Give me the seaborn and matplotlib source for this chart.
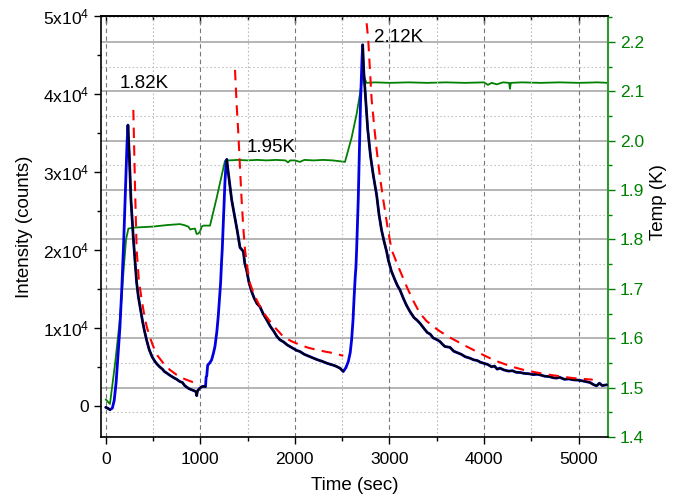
import numpy as np
import matplotlib
matplotlib.use('Agg')
import matplotlib.pyplot as plt
from matplotlib.ticker import MultipleLocator, FuncFormatter
import seaborn as sns

# intensity trace (sec, counts)
time_sec = [0, 20, 45, 70, 90, 110, 130, 150, 170, 190, 210, 225, 235, 250, 267, 292, 310, 327, 345, 363,
            390, 410, 433, 460, 490, 520, 539, 570, 600, 620, 645, 680, 720, 750, 785, 810, 835, 856, 880,
            910, 940, 955, 962, 970, 990, 1015, 1040, 1055, 1062, 1068, 1078, 1100, 1120, 1140, 1155, 1175,
            1190, 1205, 1215, 1225, 1232, 1245, 1260, 1272, 1280, 1290, 1310, 1332, 1360, 1390, 1420, 1455,
            1470, 1490, 1515, 1543, 1570, 1600, 1631, 1665, 1702, 1740, 1780, 1810, 1842, 1880, 1920, 1948,
            1990, 2020, 2054, 2100, 2140, 2170, 2195, 2240, 2290, 2336, 2380, 2410, 2442, 2480, 2512, 2540,
            2565, 2585, 2600, 2615, 2625, 2638, 2646, 2653, 2670, 2695, 2710, 2717, 2728, 2745, 2770, 2800,
            2830, 2865, 2890, 2917, 2945, 2970, 2988, 3020, 3058, 3085, 3111, 3150, 3180, 3217, 3260, 3290,
            3322, 3360, 3400, 3430, 3463, 3500, 3534, 3560, 3587, 3640, 3680, 3720, 3760, 3800, 3851, 3890,
            3930, 3960, 3992, 4040, 4080, 4110, 4140, 4168, 4210, 4260, 4300, 4340, 4380, 4430, 4480, 4520,
            4560, 4591, 4640, 4690, 4730, 4767, 4800, 4850, 4900, 4943, 4990, 5040, 5080, 5120, 5160, 5190,
            5220, 5250, 5296]
intensity = [-200, -300, -500, -300, 700, 3000, 6500, 10000, 15000, 21000, 28000, 33500, 36000, 32000, 26400,
             21500, 18500, 15800, 14000, 12700, 10800, 9600, 8400, 7200, 6300, 5700, 5400, 5000, 4700, 4400,
             4200, 3900, 3600, 3400, 3100, 3000, 2600, 2400, 2200, 2050, 1900, 1800, 1300, 1900, 2200, 2450,
             2500, 2450, 3700, 3800, 5200, 5500, 5900, 6800, 7600, 9500, 11500, 14000, 15800, 18500, 20000,
             24000, 28500, 31000, 31600, 30500, 28500, 26400, 24500, 22500, 20300, 19800, 18300, 17400, 15800,
             14650, 13800, 13100, 12700, 11800, 11030, 10200, 9500, 8900, 8460, 8200, 7800, 7600, 7300, 7100,
             6960, 6600, 6400, 6250, 6110, 5900, 5700, 5470, 5300, 5200, 5040, 4800, 4400, 4900, 5680, 6800,
             8460, 11000, 13600, 16500, 17860, 20000, 26400, 39200, 44500, 46300, 43000, 40000, 35500, 32000,
             29500, 27000, 24500, 22500, 21000, 19800, 18700, 17300, 16150, 15400, 14870, 13700, 12900, 12090,
             11300, 11000, 10600, 10000, 9400, 9200, 8700, 8500, 8240, 7900, 7600, 7500, 7000, 6800, 6600,
             6300, 6110, 5900, 5800, 5600, 5470, 5300, 5000, 5100, 4700, 4830, 4600, 4450, 4500, 4300, 4270,
             4150, 4100, 4000, 4050, 3970, 3800, 3750, 3600, 3550, 3650, 3400, 3450, 3330, 3300, 3200, 3100,
             2990, 2700, 2560, 2900, 2600, 2690]

# time windows drawn in black over the blue trace
decay_windows = [(0, 60), (235, 1055), (1280, 2512), (2717, 5300)]

# fitted decays (red dashed)
fit1_t = [292, 310, 327, 350, 380, 410, 433, 470, 503, 550, 609, 680, 750, 800, 856, 930, 997]
fit1_y = [37950, 28000, 20000, 16200, 13600, 11500, 10170, 8700, 7600, 6400, 5470, 4600, 3970, 3600, 3330,
          3000, 2690]
fit2_t = [1367, 1385, 1402, 1420, 1437, 1455, 1473, 1500, 1525, 1570, 1613, 1670, 1737, 1800, 1877, 1960,
          2054, 2140, 2230, 2320, 2406, 2512]
fit2_y = [43080, 38500, 34960, 30500, 26400, 22800, 20000, 17500, 15730, 14200, 13170, 11900, 10820, 9900,
          8880, 8300, 7820, 7450, 7180, 6950, 6760, 6410]
fit3_t = [2759, 2776, 2795, 2812, 2840, 2865, 2900, 2935, 2980, 3023, 3093, 3182, 3250, 3322, 3390, 3463,
          3534, 3640, 3710, 3800, 3886, 3970, 4062, 4150, 4239, 4330, 4415, 4500, 4591, 4680, 4767, 4850,
          4943, 5050, 5150]
fit3_y = [49060, 46900, 42800, 39230, 35700, 32800, 29300, 26400, 22900, 20000, 17860, 15300, 13500, 11880,
          10900, 10170, 9550, 8750, 8300, 7700, 7180, 6650, 6110, 5650, 5260, 4900, 4620, 4400, 4190, 4000,
          3850, 3700, 3550, 3450, 3350]

# temperature (right axis)
temp_t = [0, 45, 100, 151, 186, 215, 240, 300, 400, 500, 645, 785, 830, 873, 895, 909, 944, 955, 962, 980,
          997, 1015, 1032, 1103, 1173, 1261, 1300, 1400, 1500, 1600, 1700, 1800, 1900, 1927, 1950, 2000,
          2054, 2100, 2200, 2300, 2400, 2530, 2600, 2653, 2688, 2717, 2759, 2850, 3000, 3200, 3400, 3600,
          3800, 4000, 4041, 4080, 4135, 4200, 4265, 4274, 4283, 4400, 4600, 4800, 5000, 5200, 5310]
temp_k = [1.476, 1.467, 1.55, 1.64, 1.73, 1.80, 1.822, 1.824, 1.825, 1.826, 1.829, 1.831, 1.829, 1.826,
          1.820, 1.821, 1.822, 1.815, 1.811, 1.812, 1.816, 1.826, 1.828, 1.828, 1.884, 1.959, 1.960, 1.961,
          1.960, 1.961, 1.960, 1.961, 1.960, 1.956, 1.960, 1.960, 1.957, 1.961, 1.960, 1.961, 1.960, 1.957,
          2.006, 2.054, 2.094, 2.133, 2.117, 2.118, 2.117, 2.118, 2.117, 2.118, 2.117, 2.118, 2.113, 2.117,
          2.114, 2.118, 2.117, 2.105, 2.117, 2.118, 2.117, 2.118, 2.117, 2.118, 2.117]

labels = ['1.82K', '1.95K', '2.12K']
label_t = [144, 1494, 2836]
label_y = [41300, 33100, 47200]

sns.set_theme(style='white', rc={'text.color': 'black', 'axes.labelcolor': 'black',
                                 'xtick.color': 'black', 'ytick.color': 'black'})
plt.rcParams['font.family'] = ['Liberation Sans', 'DejaVu Sans']
plt.rcParams['mathtext.fontset'] = 'custom'
plt.rcParams['mathtext.rm'] = 'Liberation Sans'
plt.rcParams['mathtext.it'] = 'Liberation Sans'
plt.rcParams['mathtext.bf'] = 'Liberation Sans'

green = '#008000'

fig = plt.figure(figsize=(6.8, 4.98), dpi=100)
ax = fig.add_axes([0.1485, 0.1225, 0.7455, 0.8455])
ax2 = ax.twinx()
ax.set_zorder(ax2.get_zorder() + 1)
ax.patch.set_visible(False)

# temperature
sns.lineplot(x=temp_t, y=temp_k, ax=ax2, color=green, linewidth=1.3, estimator=None, sort=False)

# intensity
t_arr = np.array(time_sec)
i_arr = np.array(intensity)
sns.lineplot(x=t_arr, y=i_arr, ax=ax, color='#0000e0', linewidth=2.0, estimator=None, sort=False)
for t0, t1 in decay_windows:
    m = (t_arr >= t0) & (t_arr <= t1)
    sns.lineplot(x=t_arr[m], y=i_arr[m], ax=ax, color='black', linewidth=1.4, estimator=None, sort=False)

for ft, fy in [(fit1_t, fit1_y), (fit2_t, fit2_y), (fit3_t, fit3_y)]:
    sns.lineplot(x=ft, y=fy, ax=ax, color='#ff0000', linewidth=1.5, linestyle=(0, (5, 3.5)),
                 estimator=None, sort=False)

for txt, tx, ty in zip(labels, label_t, label_y):
    ax.text(tx, ty, txt, fontsize=13.5, ha='left', va='center', color='black')

# left axis
ax.set_xlim(-50, 5310)
ax.set_ylim(-4000, 50000)
ax.yaxis.set_major_locator(MultipleLocator(10000))
ax.yaxis.set_minor_locator(MultipleLocator(5000))
ax.yaxis.set_major_formatter(FuncFormatter(
    lambda v, p: '0' if abs(v) < 1 else r'$%d\mathregular{x}10^{4}$' % round(v / 10000)))
ax.xaxis.set_major_locator(MultipleLocator(1000))
ax.xaxis.set_minor_locator(MultipleLocator(500))
ax.tick_params(axis='both', which='major', direction='out', length=5, width=1, labelsize=12.5,
               colors='black', left=True, bottom=True)
ax.tick_params(axis='both', which='minor', direction='out', length=3, width=1, left=True, bottom=True)
ax.tick_params(axis='x', pad=6)
ax.set_xlabel('Time (sec)', fontsize=13.5, labelpad=7)
ax.set_ylabel('Intensity (counts)', fontsize=13.5)
ax.yaxis.set_label_coords(-0.134, 0.5)
ax.grid(False)
ax.grid(axis='x', which='major', color='#777777', linestyle=(0, (4, 3)), linewidth=0.8)
ax.grid(axis='x', which='minor', color='#bbbbbb', linestyle=(0, (1.5, 2)), linewidth=0.8)
for s in ['left', 'bottom', 'top']:
    ax.spines[s].set_color('black')
    ax.spines[s].set_linewidth(1.2)
ax.spines['right'].set_visible(False)

top = ax.secondary_xaxis('top')
top.xaxis.set_major_locator(MultipleLocator(1000))
top.xaxis.set_minor_locator(MultipleLocator(500))
top.tick_params(which='major', direction='in', length=5, width=1, labeltop=False, colors='black')
top.tick_params(which='minor', direction='in', length=3, width=1)
top.spines['top'].set_linewidth(1.2)
top.spines['top'].set_color('black')

# right axis
ax2.set_ylim(1.4, 2.2525)
ax2.yaxis.set_major_locator(MultipleLocator(0.1))
ax2.yaxis.set_minor_locator(MultipleLocator(0.05))
ax2.yaxis.set_major_formatter(FuncFormatter(lambda v, p: '%.1f' % v))
ax2.tick_params(axis='y', which='major', direction='out', length=5, width=1, labelsize=12.5,
                colors=green, right=True)
ax2.tick_params(axis='y', which='minor', direction='out', length=3, width=1, colors=green, right=True)
ax2.set_ylabel('Temp (K)', fontsize=13.5, color='black')
ax2.yaxis.set_label_coords(1.083, 0.558)
ax2.grid(False)
ax2.grid(axis='y', which='major', color='#a0a0a0', linestyle='-', linewidth=1.1)
ax2.grid(axis='y', which='minor', color='#c4c4c4', linestyle=(0, (1.5, 2)), linewidth=0.8)
ax2.spines['right'].set_color('#2a9a2a')
ax2.spines['right'].set_linewidth(1.5)
for s in ['left', 'top', 'bottom']:
    ax2.spines[s].set_visible(False)

fig.savefig('out.png', dpi=100)
